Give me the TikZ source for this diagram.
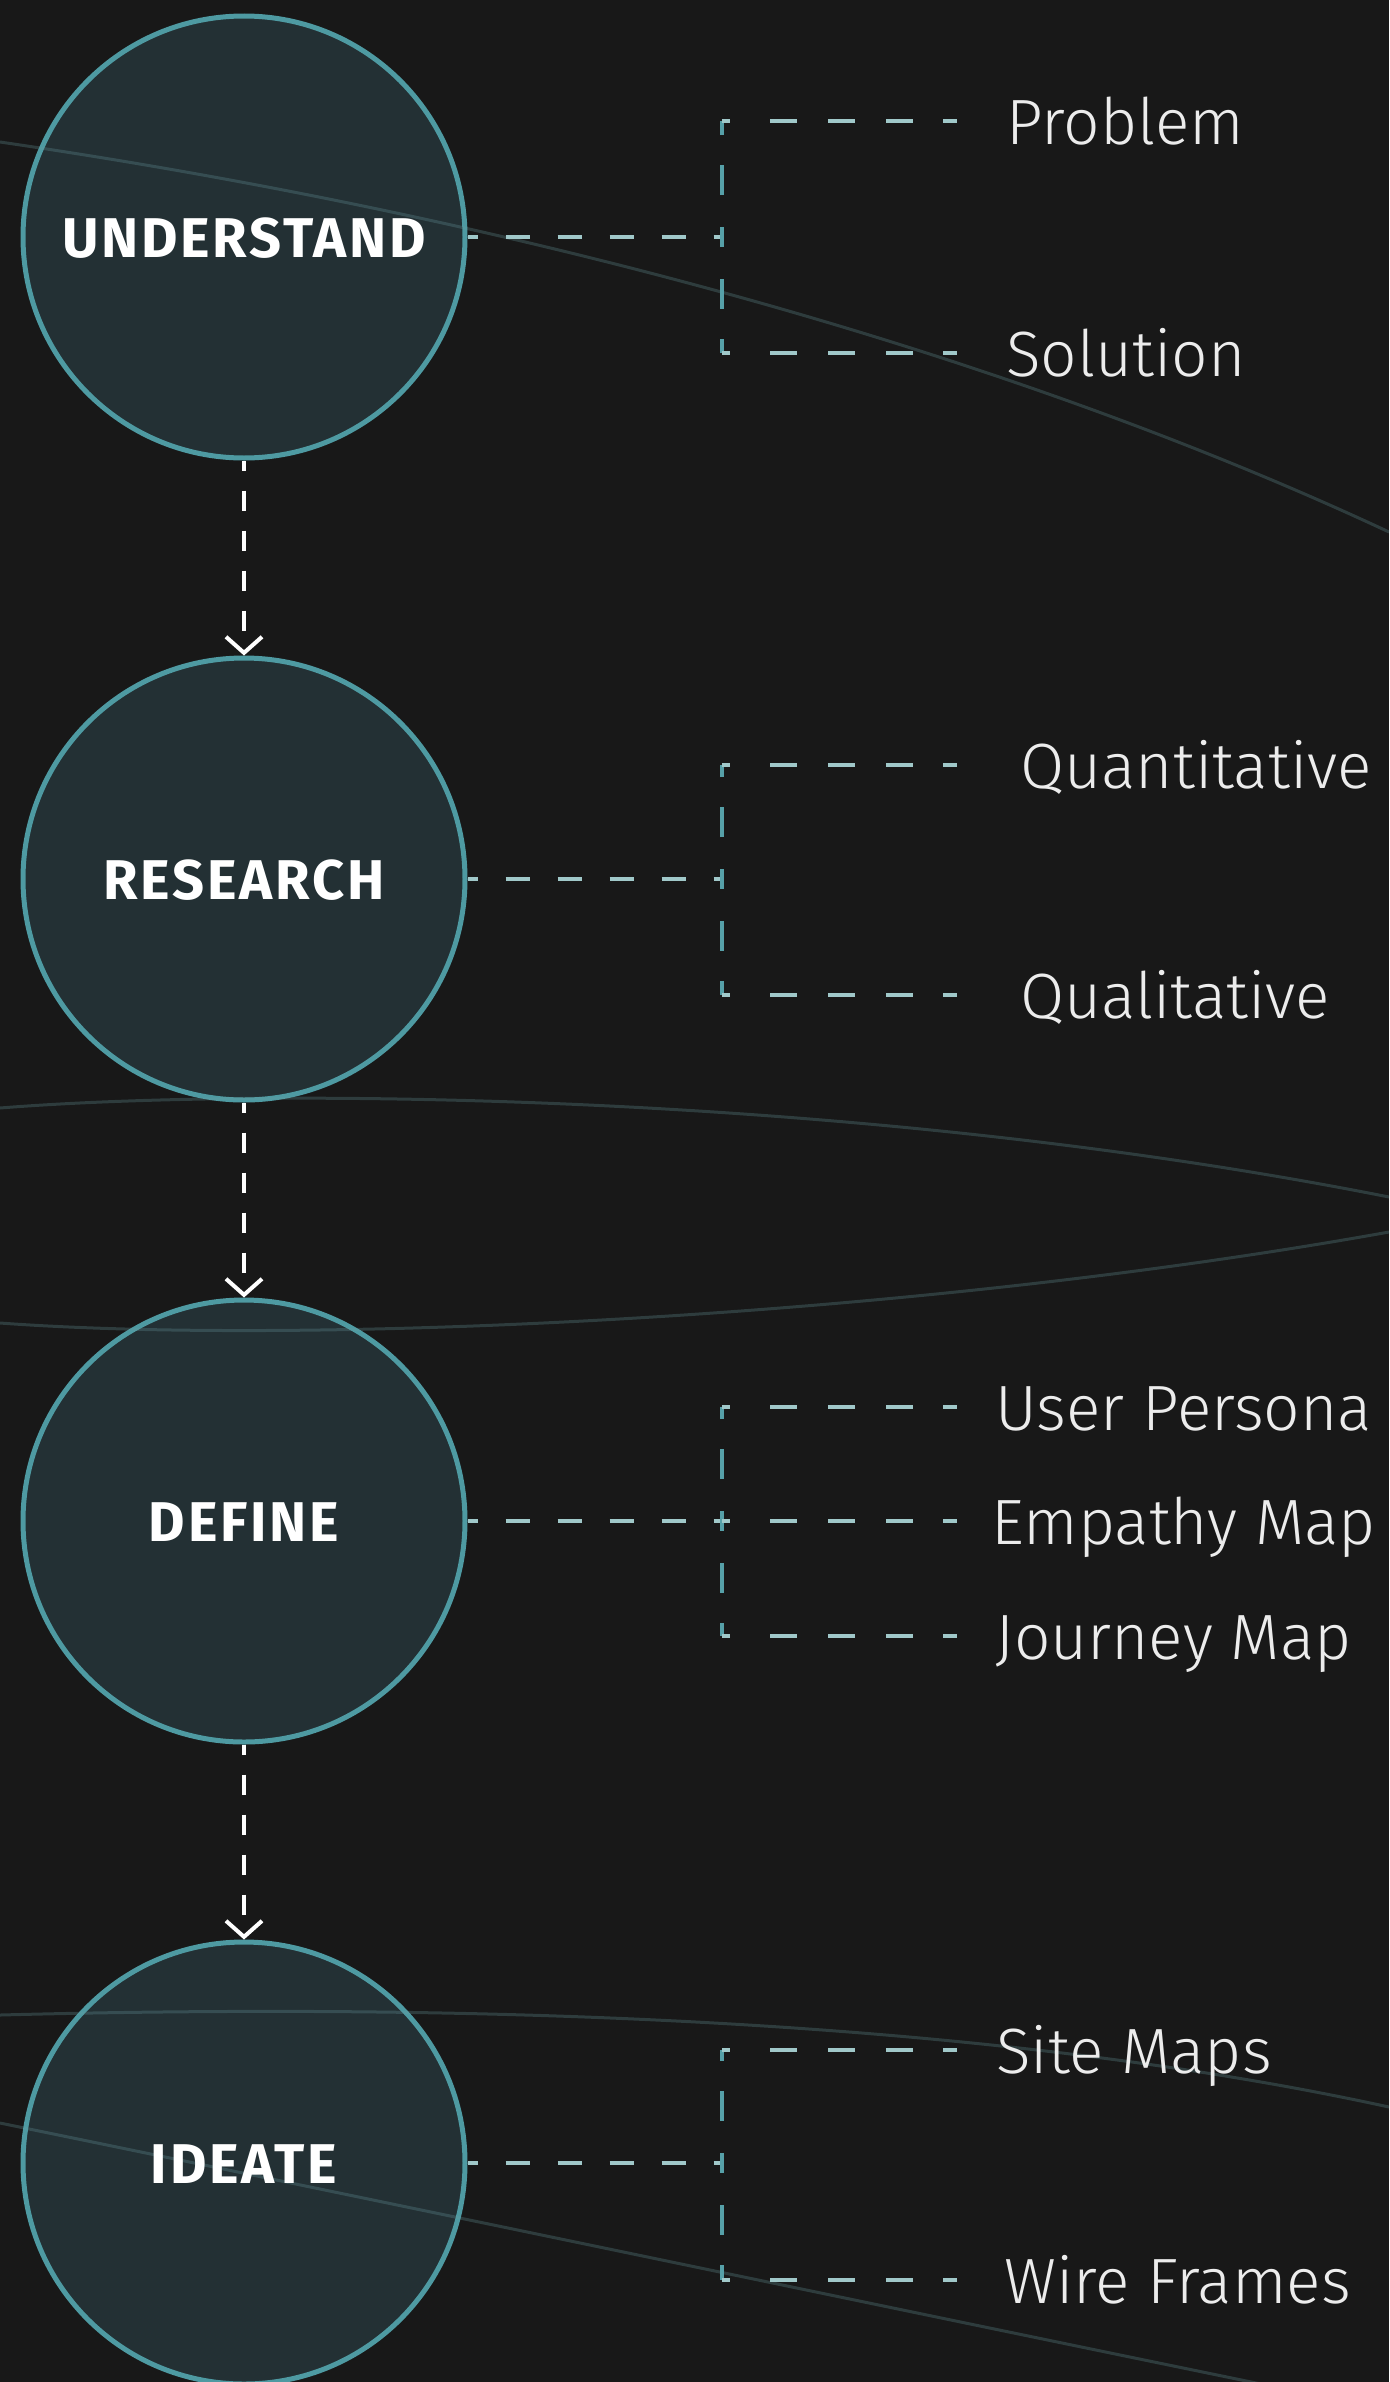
\documentclass[tikz,border=0pt]{standalone}
\usepackage{fontspec}
\setmainfont{Noto Sans}
\newfontfamily\lightlab{Fira Sans Light}
\newfontfamily\boldlab{Fira Sans Bold}[LetterSpace=5]
\usetikzlibrary{arrows.meta}
\definecolor{bg}{HTML}{181818}
\definecolor{stagefill}{HTML}{233034}
\definecolor{stageline}{HTML}{4E9AA2}
\definecolor{hdash}{HTML}{A0C8C9}
\definecolor{vdash}{HTML}{56A0A8}
\definecolor{curvecol}{HTML}{6A9EA3}
\definecolor{labtext}{HTML}{ECECEC}
\tikzset{
  stage/.style={circle, fill=stagefill, draw=stageline, line width=2.5pt, minimum size=221pt, inner sep=0pt},
  stagetext/.style={text=white, font=\boldlab\fontsize{28}{28}\selectfont, anchor=base, inner sep=0pt},
  itemtext/.style={text=labtext, font=\lightlab\fontsize{32}{32}\selectfont, anchor=base west, inner sep=0pt},
  flow/.style={draw=white, line width=2pt, dash pattern=on 10pt off 10pt, dash phase=5pt, -{Straight Barb[length=8pt,width=18pt]}},
  mainlink/.style={draw=hdash, line width=2pt, dash pattern=on 12pt off 14pt, dash phase=7pt},
  branch/.style={draw=hdash, line width=2pt, dash pattern=on 4pt off 20pt on 13.5pt off 15.5pt on 13.5pt off 15.5pt on 13.5pt off 15pt on 8pt},
  riser/.style={draw=vdash, line width=2pt, dash pattern=on 5pt off 16pt on 15pt off 15pt on 10pt},
  bgcurve/.style={draw=curvecol, draw opacity=0.27, line width=1.5pt}
}
\begin{document}
\begin{tikzpicture}[x=0.5pt, y=-0.5pt]
\fill[bg] (0,0) rectangle (1389,2382);
\useasboundingbox (0,0) rectangle (1389,2382);

% stages
\node[stage] (s1) at (244,237) {};
\node[stage] (s2) at (244,879) {};
\node[stage] (s3) at (244,1521) {};
\node[stage] (s4) at (244,2163) {};

% background curves
\draw[bgcurve] (0,142) .. controls (500,215) and (1000,350) .. (1389,532);
\draw[bgcurve] (0,1108) .. controls (250,1088) and (850,1090) .. (1389,1197);
\draw[bgcurve] (0,1323) .. controls (300,1345) and (900,1320) .. (1389,1232);
\draw[bgcurve] (0,2015) .. controls (500,2002) and (1000,2022) .. (1389,2107);
\draw[bgcurve] (0,2123) .. controls (400,2205) and (900,2310) .. (1300,2392);

% stage labels
\node[stagetext] (t1) at (244,257) {UNDERSTAND};
\node[stagetext] (t2) at (244,899) {RESEARCH};
\node[stagetext] (t3) at (244,1541) {DEFINE};
\node[stagetext] (t4) at (244,2183) {IDEATE};

% flow arrows
\draw[flow] (s1.south) -- (s2.north);
\draw[flow] (s2.south) -- (s3.north);
\draw[flow] (s3.south) -- (s4.north);

% junctions and corners
\coordinate (j1) at (722,237);
\coordinate (j1a) at (722,121);  \coordinate (e1a) at (957,121);
\coordinate (j1b) at (722,353);  \coordinate (e1b) at (957,353);
\coordinate (j2) at (722,879);
\coordinate (j2a) at (722,765);  \coordinate (e2a) at (957,765);
\coordinate (j2b) at (722,995);  \coordinate (e2b) at (957,995);
\coordinate (j3) at (722,1521);
\coordinate (j3a) at (722,1407); \coordinate (e3a) at (957,1407);
\coordinate (e3m) at (957,1521);
\coordinate (j3b) at (722,1636); \coordinate (e3b) at (957,1636);
\coordinate (j4) at (722,2163);
\coordinate (j4a) at (722,2050); \coordinate (e4a) at (957,2050);
\coordinate (j4b) at (722,2280); \coordinate (e4b) at (957,2280);

% item labels
\node[itemtext] (i1a) at (1006,144) {Problem};
\node[itemtext] (i1b) at (1006,376) {Solution};
\node[itemtext] (i2a) at (1020,788) {Quantitative};
\node[itemtext] (i2b) at (1020,1018) {Qualitative};
\node[itemtext] (i3a) at (995,1430) {User Persona};
\node[itemtext] (i3m) at (991,1544) {Empathy Map};
\node[itemtext] (i3b) at (995,1659) {Journey Map};
\node[itemtext] (i4a) at (996,2073) {Site Maps};
\node[itemtext] (i4b) at (1004,2303) {Wire Frames};

% connectors
\draw[mainlink] (s1.east) -- (j1);
\draw[riser] (j1) -- (j1a);
\draw[riser] (j1) -- (j1b);
\draw[branch] (j1a) -- (e1a);
\draw[branch] (j1b) -- (e1b);

\draw[mainlink] (s2.east) -- (j2);
\draw[riser] (j2) -- (j2a);
\draw[riser] (j2) -- (j2b);
\draw[branch] (j2a) -- (e2a);
\draw[branch] (j2b) -- (e2b);

\draw[mainlink] (s3.east) -- (j3);
\draw[riser] (j3) -- (j3a);
\draw[riser] (j3) -- (j3b);
\draw[branch] (j3a) -- (e3a);
\draw[branch] (j3) -- (e3m);
\draw[branch] (j3b) -- (e3b);

\draw[mainlink] (s4.east) -- (j4);
\draw[riser] (j4) -- (j4a);
\draw[riser] (j4) -- (j4b);
\draw[branch] (j4a) -- (e4a);
\draw[branch] (j4b) -- (e4b);
\end{tikzpicture}
\end{document}
